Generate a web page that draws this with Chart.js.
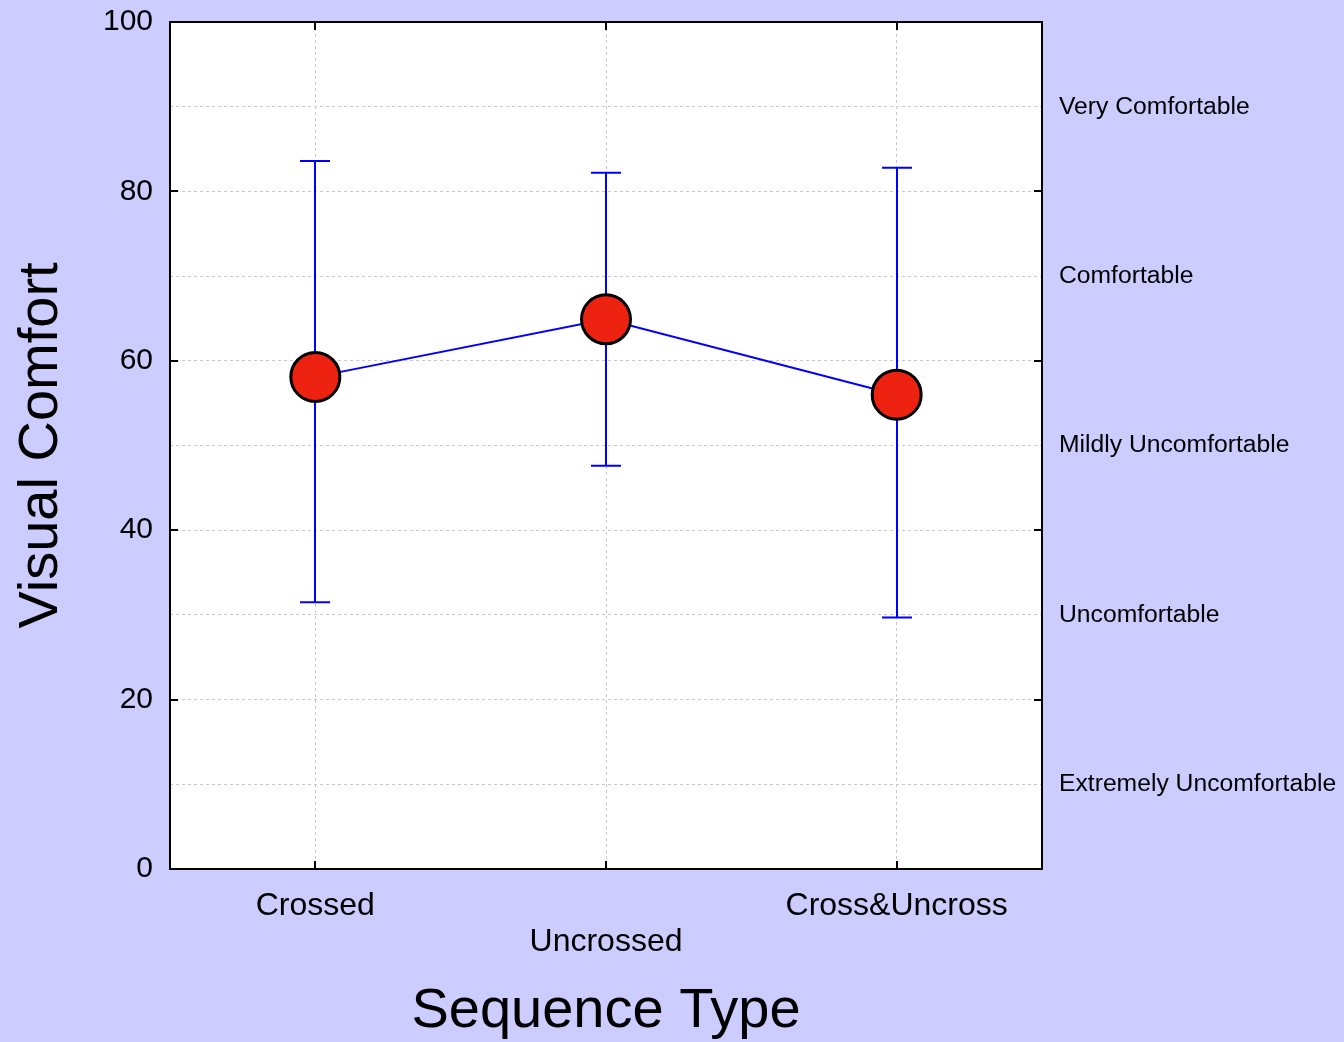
<!DOCTYPE html>
<html>
<head>
<meta charset="utf-8">
<script src="https://cdn.jsdelivr.net/npm/chart.js@4/dist/chart.umd.min.js"></script>
<style>
  html, body { margin: 0; padding: 0; background: #ccccff; }
  canvas { display: block; }
</style>
</head>
<body>
<canvas id="c" width="1344" height="1042"></canvas>
<script>
// Sequence types and their visual comfort scores (mean with interval limits)
const categories = ['Crossed', 'Uncrossed', 'Cross&Uncross'];
const categoryLabels = [['Crossed'], ['', 'Uncrossed'], ['Cross&Uncross']];
const meanComfort = [58.1, 64.9, 56.0];
const upperLimit = [83.6, 82.2, 82.8];
const lowerLimit = [31.5, 47.6, 29.7];

// Axis ticks
const scoreTicks = [0, 20, 40, 60, 80, 100];
const ratingValues = [10, 30, 50, 70, 90];
const ratingLabels = ['Extremely Uncomfortable', 'Uncomfortable', 'Mildly Uncomfortable', 'Comfortable', 'Very Comfortable'];

const FONT = "'Liberation Sans', Arial, sans-serif";

// White plotting area
const plotBackground = {
  id: 'plotBackground',
  beforeDraw(chart) {
    const { ctx, chartArea: a } = chart;
    ctx.save();
    ctx.fillStyle = '#ffffff';
    ctx.fillRect(a.left, a.top, a.right - a.left, a.bottom - a.top);
    ctx.restore();
  }
};

// Vertical interval whiskers with caps
const errorBars = {
  id: 'errorBars',
  beforeDatasetsDraw(chart) {
    const { ctx, scales: { x, y } } = chart;
    ctx.save();
    ctx.strokeStyle = '#0000ff';
    ctx.lineWidth = 2;
    const cap = 15;
    categories.forEach((c, i) => {
      const px = Math.round(x.getPixelForValue(i));
      const top = y.getPixelForValue(upperLimit[i]);
      const bot = y.getPixelForValue(lowerLimit[i]);
      ctx.beginPath();
      ctx.moveTo(px, top); ctx.lineTo(px, bot);
      ctx.moveTo(px - cap, top); ctx.lineTo(px + cap, top);
      ctx.moveTo(px - cap, bot); ctx.lineTo(px + cap, bot);
      ctx.stroke();
    });
    ctx.restore();
  }
};

// Frame around the plot with inward tick marks
const frame = {
  id: 'frame',
  afterDraw(chart) {
    const { ctx, chartArea: a, scales: { x, y } } = chart;
    const tl = 8;
    ctx.save();
    ctx.strokeStyle = '#000000';
    ctx.lineWidth = 2;
    ctx.strokeRect(a.left, a.top, a.right - a.left, a.bottom - a.top);
    ctx.beginPath();
    scoreTicks.forEach(v => {
      const py = Math.round(y.getPixelForValue(v));
      ctx.moveTo(a.left, py); ctx.lineTo(a.left + tl, py);
      ctx.moveTo(a.right, py); ctx.lineTo(a.right - tl, py);
    });
    categories.forEach((c, i) => {
      const px = Math.round(x.getPixelForValue(i));
      ctx.moveTo(px, a.top); ctx.lineTo(px, a.top + tl);
      ctx.moveTo(px, a.bottom); ctx.lineTo(px, a.bottom - tl);
    });
    ctx.stroke();
    ctx.restore();
  }
};

new Chart(document.getElementById('c'), {
  type: 'line',
  data: {
    labels: categories,
    datasets: [{
      data: meanComfort,
      borderColor: '#0000ff',
      borderWidth: 2,
      pointRadius: 24.5,
      pointHoverRadius: 24.5,
      pointBorderWidth: 3,
      pointBorderColor: '#000000',
      pointBackgroundColor: '#ee2211',
      fill: false,
      tension: 0,
      clip: false
    }]
  },
  options: {
    responsive: false,
    animation: false,
    events: [],
    layout: { autoPadding: false, padding: { top: 22, left: 0, right: 0, bottom: 0 } },
    plugins: { legend: { display: false }, tooltip: { enabled: false } },
    scales: {
      x: {
        type: 'category',
        offset: true,
        grid: { display: true, offset: false, color: '#c8c8c8', lineWidth: 1, drawTicks: false },
        border: { display: false, dash: [3, 3] },
        ticks: {
          autoSkip: false, maxRotation: 0, minRotation: 0,
          padding: 19,
          color: '#000000',
          font: { family: FONT, size: 32, lineHeight: 1.12 },
          callback: (v, i) => categoryLabels[i]
        },
        title: {
          display: true, text: 'Sequence Type', color: '#000000',
          font: { family: FONT, size: 56, lineHeight: 1.1 },
          padding: { top: 0, bottom: 0 }
        },
        afterFit(s) { s.height = 173; s.paddingLeft = 0; s.paddingRight = 0; }
      },
      y: {
        position: 'left',
        min: 0, max: 100,
        grid: { display: true, color: '#c8c8c8', lineWidth: 1, drawTicks: false },
        border: { display: false, dash: [3, 3] },
        ticks: {
          stepSize: 10, autoSkip: false,
          padding: 17,
          color: '#000000',
          font: { family: FONT, size: 30 },
          callback: v => (scoreTicks.includes(v) ? String(v) : '')
        },
        title: {
          display: true, text: 'Visual Comfort', color: '#000000',
          font: { family: FONT, size: 56 },
          padding: { top: 8, bottom: 0 }
        },
        afterFit(s) { s.width = 170; s.paddingTop = 0; s.paddingBottom = 0; }
      },
      y2: {
        position: 'right',
        min: 0, max: 100,
        grid: { display: false, drawTicks: false },
        border: { display: false },
        ticks: {
          stepSize: 10, autoSkip: false,
          padding: 17,
          color: '#000000',
          font: { family: FONT, size: 24.7 },
          callback: v => {
            const k = ratingValues.indexOf(v);
            return k >= 0 ? ratingLabels[k] : '';
          }
        },
        afterFit(s) { s.width = 302; s.paddingTop = 0; s.paddingBottom = 0; }
      }
    }
  },
  plugins: [plotBackground, errorBars, frame]
});
</script>
</body>
</html>
